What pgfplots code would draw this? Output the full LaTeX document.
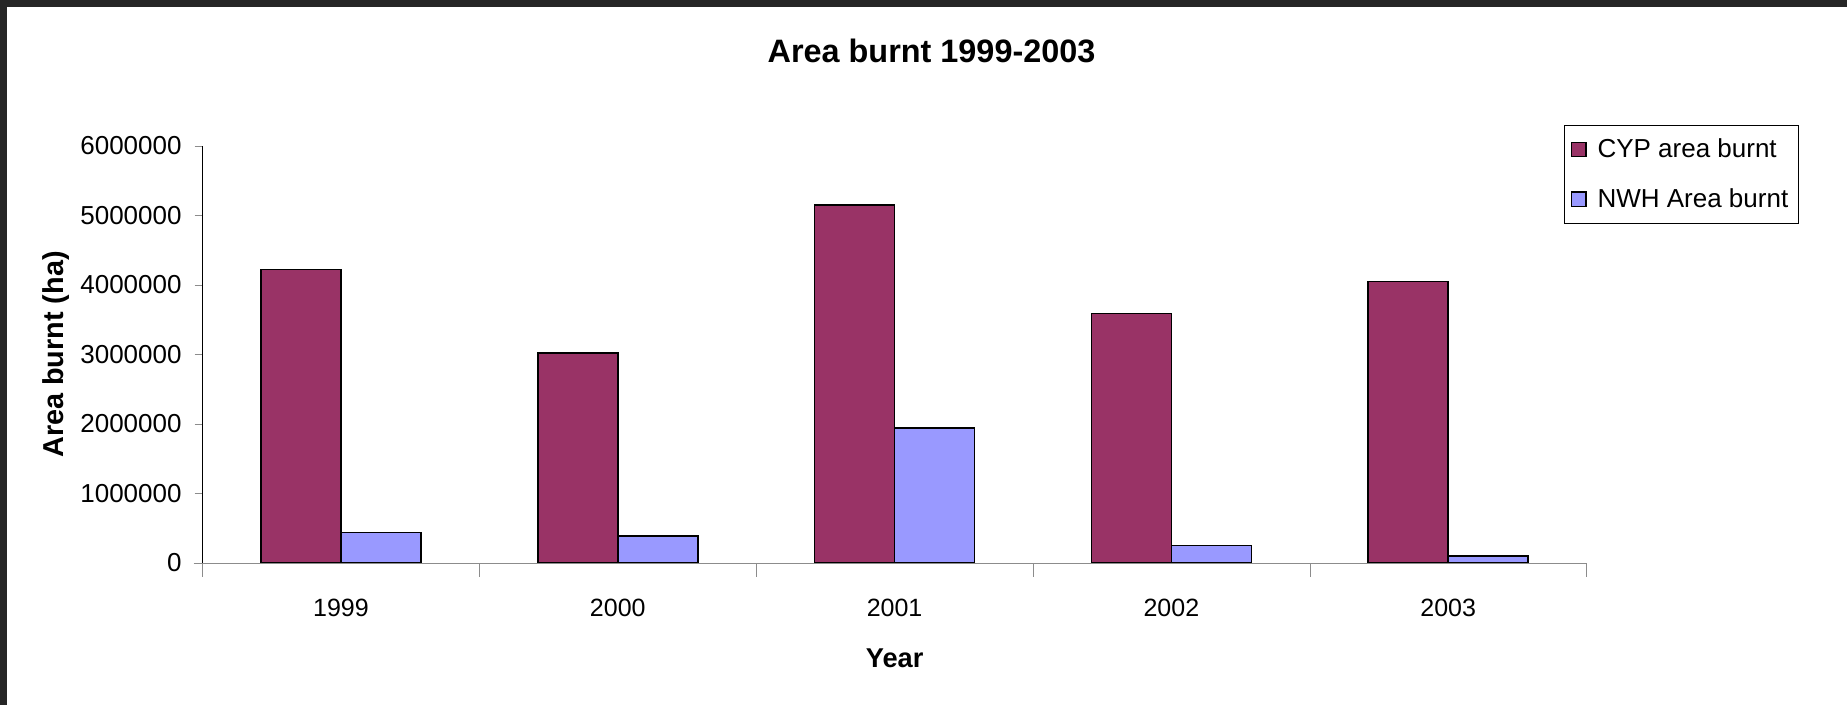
\documentclass[border=0pt]{standalone}
\usepackage{pgfplots}
\pgfplotsset{compat=1.18}
\usepackage{fontspec}
\setmainfont{Liberation Sans}

\definecolor{cyp}{HTML}{993366}
\definecolor{nwh}{HTML}{9999FF}
\definecolor{frame}{HTML}{262626}

\begin{document}
\begin{tikzpicture}
  % window frame of the screenshot
  \fill[frame] (0pt,0pt) rectangle (923.5pt,352.5pt);
  \fill[white] (3.5pt,0pt) rectangle (923.5pt,349pt);

  \begin{axis}[
      at={(101.3pt,71pt)}, anchor=south west,
      scale only axis,
      width=692pt, height=208.5pt,
      ybar=0pt, bar width=40pt,
      xmin=-0.5, xmax=4.5,
      ymin=0, ymax=6000000,
      xtick={0,1,2,3,4},
      xticklabels={1999,2000,2001,2002,2003},
      minor xtick={-0.5,0.5,...,4.5},
      ytick={0,1000000,...,6000000},
      scaled y ticks=false,
      axis x line*=bottom, axis y line*=left,
      x axis line style={draw=gray!90, -, shorten <=-4.5pt},
      y axis line style={draw=black, -},
      tick align=outside,
      major tick length=4pt, minor tick length=7pt,
      xtick style={draw=none},
      minor x tick style={draw=gray!90},
      ytick style={draw=gray!90},
      /pgf/number format/assume math mode=true,
      yticklabel style={/pgf/number format/fixed, /pgf/number format/precision=0,
        /pgf/number format/1000 sep={}, font=\fontsize{13}{15}\selectfont,
        anchor=east, inner sep=0pt, xshift=-6.3pt},
      xticklabel style={font=\fontsize{12.5}{15}\selectfont, anchor=center,
        yshift=-18.5pt},
      xlabel={Year},
      xlabel style={font=\bfseries\fontsize{13.6}{16}\selectfont,
        at={(axis description cs:0.5,-0.229)}, anchor=center},
      ylabel={Area burnt (ha)},
      ylabel style={font=\bfseries\fontsize{14.4}{16}\selectfont,
        at={(axis description cs:-0.106,0.5)}, anchor=center, rotate=0},
      title={Area burnt 1999-2003},
      title style={font=\bfseries\fontsize{16.2}{19}\selectfont,
        at={(axis description cs:0.5267,1.200)}, anchor=center},
      legend style={at={(0.984,1.05)}, anchor=north west,
        draw=black, fill=white, font=\fontsize{13}{15}\selectfont,
        inner xsep=3pt, inner ysep=4.5pt, row sep=10pt},
      legend cell align=left,
      legend image code/.code={\draw[#1, draw=black, line width=0.7pt]
        (0pt,-3.6pt) rectangle (7.2pt,3.6pt);
        \path[draw=none, fill=none] (0pt,0pt) -- (11pt,0pt);},
    ]
    \addplot[fill=cyp, draw=black, line width=0.75pt]
      coordinates {(0,4220000) (1,3020000) (2,5150000) (3,3590000) (4,4050000)};
    \addplot[fill=nwh, draw=black, line width=0.75pt]
      coordinates {(0,440000) (1,385000) (2,1940000) (3,250000) (4,100000)};
    \legend{CYP area burnt, NWH Area burnt}
  \end{axis}
\end{tikzpicture}
\end{document}
